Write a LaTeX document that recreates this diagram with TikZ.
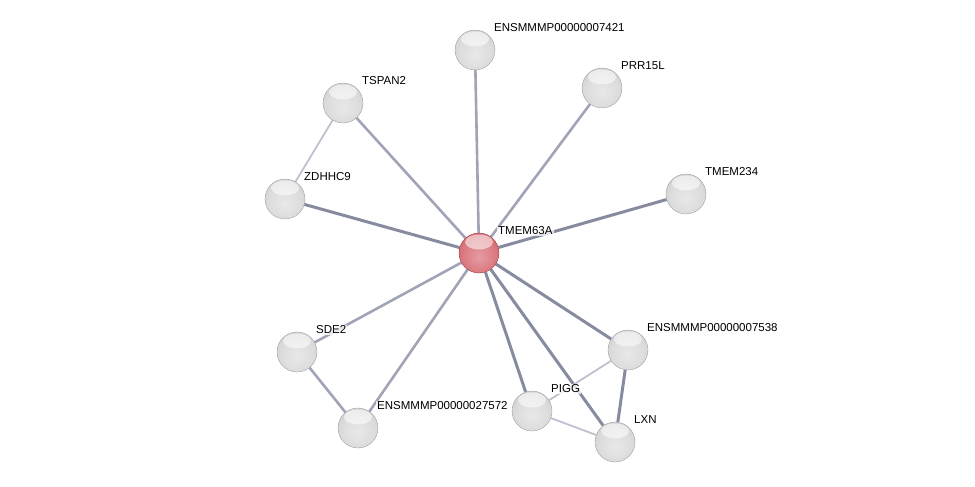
\documentclass[tikz,border=0pt]{standalone}
\usepackage{fontspec}
\setmainfont{Liberation Sans}
\usetikzlibrary{backgrounds}
\definecolor{edgedark}{RGB}{135,139,160}
\definecolor{edgemid}{RGB}{160,164,182}
\definecolor{edgelight}{RGB}{190,193,207}
\definecolor{seedred}{RGB}{210,90,98}
\definecolor{seedrim}{RGB}{140,42,50}
\pgfdeclareradialshading{protball}{\pgfpoint{0bp}{-6bp}}{color(0bp)=(gray!18); color(20bp)=(gray!27); color(36bp)=(gray!42); color(46bp)=(gray!60); color(52bp)=(gray!90); color(56bp)=(gray!100)}
\pgfdeclareradialshading{seedball}{\pgfpoint{0bp}{-6bp}}{color(0bp)=(white!40!seedred); color(20bp)=(white!20!seedred); color(36bp)=(seedred); color(46bp)=(seedred!80!seedrim); color(52bp)=(seedrim); color(56bp)=(seedrim)}
\begin{document}
\begin{tikzpicture}[x=1pt, y=-1pt,
            protein/.style={circle, minimum size=40pt, inner sep=0pt, shading=protball, draw=gray!85, line width=0.3pt,
                path picture={\fill[white, fill opacity=0.55] ([yshift=-9pt]path picture bounding box.north) ellipse (14pt and 7.5pt);}},
            seed/.style={protein, shading=seedball, draw=seedrim},
            tag/.style={anchor=west, inner sep=1pt, fill=white, fill opacity=0.75, text opacity=1, font=\fontsize{11.5}{13}\selectfont},
            strong/.style={draw=edgedark, line width=3pt},
            medium/.style={draw=edgemid, line width=2.6pt},
            weak/.style={draw=edgelight, line width=1.8pt}]

        \useasboundingbox (0,0) rectangle (975,487);

        \node[seed] (tmem63a) at (479,253) {};
        \node[protein] (p7421) at (475,50) {};
        \node[protein] (prr15l) at (602,88) {};
        \node[protein] (tspan2) at (343,103) {};
        \node[protein] (zdhhc9) at (285,199) {};
        \node[protein] (tmem234) at (686,194) {};
        \node[protein] (sde2) at (297,352) {};
        \node[protein] (p27572) at (358,428) {};
        \node[protein] (p7538) at (628,350) {};
        \node[protein] (pigg) at (532,411) {};
        \node[protein] (lxn) at (615,442) {};

        \begin{scope}[on background layer]
            \draw[medium] (tmem63a) -- (p7421);
            \draw[medium] (tmem63a) -- (prr15l);
            \draw[medium] (tmem63a) -- (tspan2);
            \draw[strong] (tmem63a) -- (zdhhc9);
            \draw[strong] (tmem63a) -- (tmem234);
            \draw[medium] (tmem63a) -- (sde2);
            \draw[medium] (tmem63a) -- (p27572);
            \draw[strong] (tmem63a) -- (p7538);
            \draw[strong] (tmem63a) -- (pigg);
            \draw[strong] (tmem63a) -- (lxn);
            \draw[weak] (tspan2) -- (zdhhc9);
            \draw[medium] (sde2) -- (p27572);
            \draw[weak] (p7538) -- (pigg);
            \draw[weak] (pigg) -- (lxn);
            \draw[strong] (p7538) -- (lxn);
        \end{scope}

        \node[tag] (tmem63a-l) at ([shift={(18pt,22pt)}]tmem63a.center) {TMEM63A};
        \node[tag] (p7421-l) at ([shift={(18pt,22pt)}]p7421.center) {ENSMMMP00000007421};
        \node[tag] (prr15l-l) at ([shift={(18pt,22pt)}]prr15l.center) {PRR15L};
        \node[tag] (tspan2-l) at ([shift={(18pt,22pt)}]tspan2.center) {TSPAN2};
        \node[tag] (zdhhc9-l) at ([shift={(18pt,22pt)}]zdhhc9.center) {ZDHHC9};
        \node[tag] (tmem234-l) at ([shift={(18pt,22pt)}]tmem234.center) {TMEM234};
        \node[tag] (sde2-l) at ([shift={(18pt,22pt)}]sde2.center) {SDE2};
        \node[tag] (p27572-l) at ([shift={(18pt,22pt)}]p27572.center) {ENSMMMP00000027572};
        \node[tag] (p7538-l) at ([shift={(18pt,22pt)}]p7538.center) {ENSMMMP00000007538};
        \node[tag] (pigg-l) at ([shift={(18pt,22pt)}]pigg.center) {PIGG};
        \node[tag] (lxn-l) at ([shift={(18pt,22pt)}]lxn.center) {LXN};
    \end{tikzpicture}
\end{document}
